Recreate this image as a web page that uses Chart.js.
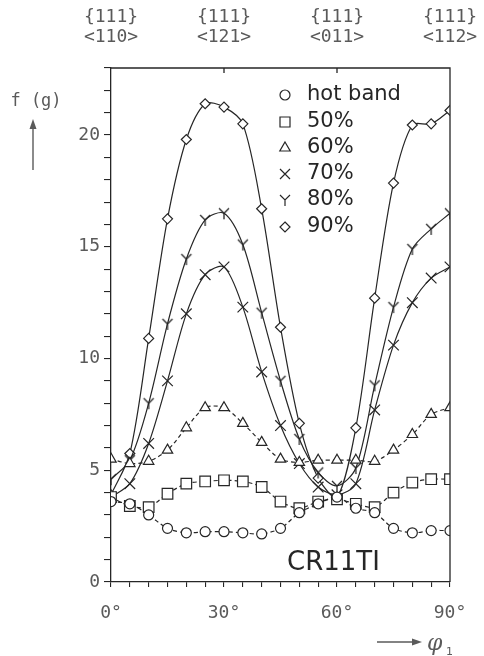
<!DOCTYPE html>
<html>
<head>
<meta charset="utf-8">
<script src="https://cdn.jsdelivr.net/npm/chart.js@4.4.1/dist/chart.umd.min.js"></script>
<style>
html, body { margin: 0; padding: 0; background: #fff; }
</style>
</head>
<body>
<canvas id="fig" width="484" height="656"></canvas>
<script>
// phi1 angles (deg), one point every 5 degrees
const angles = [0, 5, 10, 15, 20, 25, 30, 35, 40, 45, 50, 55, 60, 65, 70, 75, 80, 85, 90];

// f(g) values
const hotBand = [3.6, 3.5, 3.0, 2.4, 2.2, 2.25, 2.25, 2.2, 2.15, 2.4, 3.1, 3.5, 3.8, 3.3, 3.1, 2.4, 2.2, 2.3, 2.3];
const rolled50 = [3.8, 3.4, 3.35, 3.95, 4.4, 4.5, 4.55, 4.5, 4.25, 3.6, 3.3, 3.6, 3.7, 3.5, 3.35, 4.0, 4.45, 4.6, 4.6];
const rolled60 = [5.5, 5.3, 5.4, 5.9, 6.9, 7.8, 7.8, 7.1, 6.25, 5.5, 5.35, 5.45, 5.45, 5.45, 5.4, 5.9, 6.6, 7.5, 7.8];
const rolled70 = [3.8, 4.4, 6.2, 9.0, 12.0, 13.75, 14.1, 12.3, 9.4, 7.0, 5.3, 4.25, 3.9, 4.4, 7.7, 10.6, 12.5, 13.6, 14.1];
const rolled80 = [4.6, 5.45, 8.0, 11.55, 14.45, 16.2, 16.5, 15.1, 12.05, 9.0, 6.4, 4.9, 4.3, 5.1, 8.8, 12.3, 14.9, 15.8, 16.5];
const rolled90 = [3.9, 5.75, 10.9, 16.25, 19.8, 21.4, 21.25, 20.5, 16.7, 11.4, 7.1, 4.65, 3.8, 6.9, 12.7, 17.85, 20.45, 20.5, 21.1];

const seriesNames = ['hot band', '50%', '60%', '70%', '80%', '90%'];
const markerKinds = ['circle', 'square', 'triangle', 'cross', 'ypsilon', 'diamond'];

// top axis annotations
const topAngles = [0, 30, 60, 90];
const topPlanes = ['{111}', '{111}', '{111}', '{111}'];
const topDirections = ['<110>', '<121>', '<011>', '<112>'];

const ink = '#262626';
const labelInk = '#5a5a5a';

function makeYMarker() {
    const c = document.createElement('canvas');
    c.width = 14;
    c.height = 14;
    const g = c.getContext('2d');
    g.strokeStyle = ink;
    g.lineWidth = 1.3;
    g.beginPath();
    g.moveTo(2, 2); g.lineTo(7, 7); g.lineTo(12, 2);
    g.moveTo(7, 7); g.lineTo(7, 13);
    g.stroke();
    return c;
}
const yMarker = makeYMarker();

function toPoints(values) {
    return angles.map((a, i) => ({ x: a, y: values[i] }));
}

function makeSeries(label, values, style, radius, dashed) {
    return {
        label: label,
        data: toPoints(values),
        showLine: true,
        tension: 0.3,
        borderColor: ink,
        borderWidth: 1.2,
        borderDash: dashed ? [4, 3] : [],
        pointStyle: style,
        pointRadius: radius,
        pointHoverRadius: radius,
        pointBorderColor: ink,
        pointBorderWidth: 1.2,
        pointBackgroundColor: '#fff'
    };
}

// legend markers drawn by hand
function drawMarker(ctx, kind, x, y) {
    ctx.beginPath();
    if (kind === 'circle') {
        ctx.arc(x, y, 5, 0, Math.PI * 2);
    } else if (kind === 'square') {
        ctx.rect(x - 5, y - 5, 10, 10);
    } else if (kind === 'triangle') {
        ctx.moveTo(x, y - 6); ctx.lineTo(x + 5.2, y + 3); ctx.lineTo(x - 5.2, y + 3); ctx.closePath();
    } else if (kind === 'cross') {
        ctx.moveTo(x - 5, y - 5); ctx.lineTo(x + 5, y + 5);
        ctx.moveTo(x + 5, y - 5); ctx.lineTo(x - 5, y + 5);
    } else if (kind === 'ypsilon') {
        ctx.moveTo(x - 5, y - 5); ctx.lineTo(x, y); ctx.lineTo(x + 5, y - 5);
        ctx.moveTo(x, y); ctx.lineTo(x, y + 6);
    } else if (kind === 'diamond') {
        ctx.moveTo(x, y - 5); ctx.lineTo(x + 5, y); ctx.lineTo(x, y + 5); ctx.lineTo(x - 5, y); ctx.closePath();
    }
    ctx.stroke();
}

function arrowHead(ctx, x, y, dir) {
    // dir: 'up' or 'right'
    ctx.beginPath();
    if (dir === 'up') {
        ctx.moveTo(x, y); ctx.lineTo(x - 3.5, y + 10); ctx.lineTo(x + 3.5, y + 10);
    } else {
        ctx.moveTo(x, y); ctx.lineTo(x - 10, y - 3.5); ctx.lineTo(x - 10, y + 3.5);
    }
    ctx.closePath();
    ctx.fill();
}

const decorations = {
    id: 'decorations',
    afterDraw(chart) {
        const ctx = chart.ctx;
        const area = chart.chartArea;
        const xs = chart.scales.x;
        ctx.save();

        // top and right frame
        ctx.strokeStyle = ink;
        ctx.lineWidth = 1.3;
        ctx.beginPath();
        ctx.moveTo(area.left, area.top);
        ctx.lineTo(area.right, area.top);
        ctx.lineTo(area.right, area.bottom);
        [30, 60].forEach(a => {
            const px = xs.getPixelForValue(a);
            ctx.moveTo(px, area.top);
            ctx.lineTo(px, area.top + 5);
        });
        ctx.stroke();

        // orientation labels above the frame
        ctx.fillStyle = labelInk;
        ctx.font = '18px "DejaVu Sans Mono"';
        ctx.textAlign = 'center';
        ctx.textBaseline = 'middle';
        topAngles.forEach((a, i) => {
            const px = xs.getPixelForValue(a);
            ctx.fillText(topPlanes[i], px, 17);
            ctx.fillText(topDirections[i], px, 37);
        });

        // y axis name with arrow
        ctx.font = '17px "DejaVu Sans Mono"';
        ctx.fillText('f (g)', 36, 102);
        ctx.strokeStyle = labelInk;
        ctx.lineWidth = 1.4;
        ctx.beginPath();
        ctx.moveTo(33, 170);
        ctx.lineTo(33, 126);
        ctx.stroke();
        arrowHead(ctx, 33, 119, 'up');

        // x axis name with arrow
        ctx.beginPath();
        ctx.moveTo(377, 642);
        ctx.lineTo(414, 642);
        ctx.stroke();
        arrowHead(ctx, 422, 642, 'right');
        ctx.textAlign = 'left';
        ctx.textBaseline = 'alphabetic';
        ctx.font = 'italic 22px "DejaVu Serif"';
        ctx.fillText('φ', 427, 650);
        ctx.font = '11px "DejaVu Sans"';
        ctx.fillText('1', 446, 655);

        // sample name
        ctx.fillStyle = ink;
        ctx.font = '26px "DejaVu Sans"';
        ctx.fillText('CR11TI', 287, 570);

        // legend
        const rows = [95, 122, 148, 174, 200, 227];
        ctx.font = '21px "DejaVu Sans"';
        ctx.textBaseline = 'middle';
        ctx.strokeStyle = ink;
        ctx.lineWidth = 1.2;
        seriesNames.forEach((name, i) => {
            drawMarker(ctx, markerKinds[i], 285, rows[i]);
            ctx.fillText(name, 307, rows[i]);
        });

        ctx.restore();
    }
};

const chart = new Chart(document.getElementById('fig'), {
    type: 'scatter',
    data: {
        datasets: [
            makeSeries(seriesNames[0], hotBand, 'circle', 5, true),
            makeSeries(seriesNames[1], rolled50, 'rect', 7.5, true),
            makeSeries(seriesNames[2], rolled60, 'triangle', 6, true),
            makeSeries(seriesNames[3], rolled70, 'crossRot', 7.5, false),
            makeSeries(seriesNames[4], rolled80, yMarker, 6, false),
            makeSeries(seriesNames[5], rolled90, 'rectRot', 5, false)
        ]
    },
    options: {
        responsive: false,
        animation: false,
        layout: { padding: { top: 68, right: 34, left: 0, bottom: 0 } },
        plugins: {
            legend: { display: false },
            tooltip: { enabled: false }
        },
        scales: {
            x: {
                type: 'linear',
                min: 0,
                max: 90,
                afterFit: scale => { scale.height = 74; },
                border: { display: true, color: ink, width: 1.3 },
                grid: { drawOnChartArea: false, drawTicks: true, tickLength: 5, color: ink, lineWidth: 1.1 },
                ticks: {
                    stepSize: 5,
                    autoSkip: false,
                    maxRotation: 0,
                    padding: 16,
                    color: labelInk,
                    font: { family: 'DejaVu Sans Mono', size: 18 },
                    callback: v => (v % 30 === 0 ? v + '°' : '')
                }
            },
            y: {
                type: 'linear',
                min: 0,
                max: 23,
                afterFit: scale => { scale.width = 111; },
                border: { display: true, color: ink, width: 1.3 },
                grid: { drawOnChartArea: false, drawTicks: true, tickLength: 7, color: ink, lineWidth: 1.1 },
                ticks: {
                    stepSize: 1,
                    autoSkip: false,
                    padding: 4,
                    color: labelInk,
                    font: { family: 'DejaVu Sans Mono', size: 18 },
                    callback: v => (v % 5 === 0 ? String(v) : '')
                }
            }
        }
    },
    plugins: [decorations]
});
</script>
</body>
</html>
